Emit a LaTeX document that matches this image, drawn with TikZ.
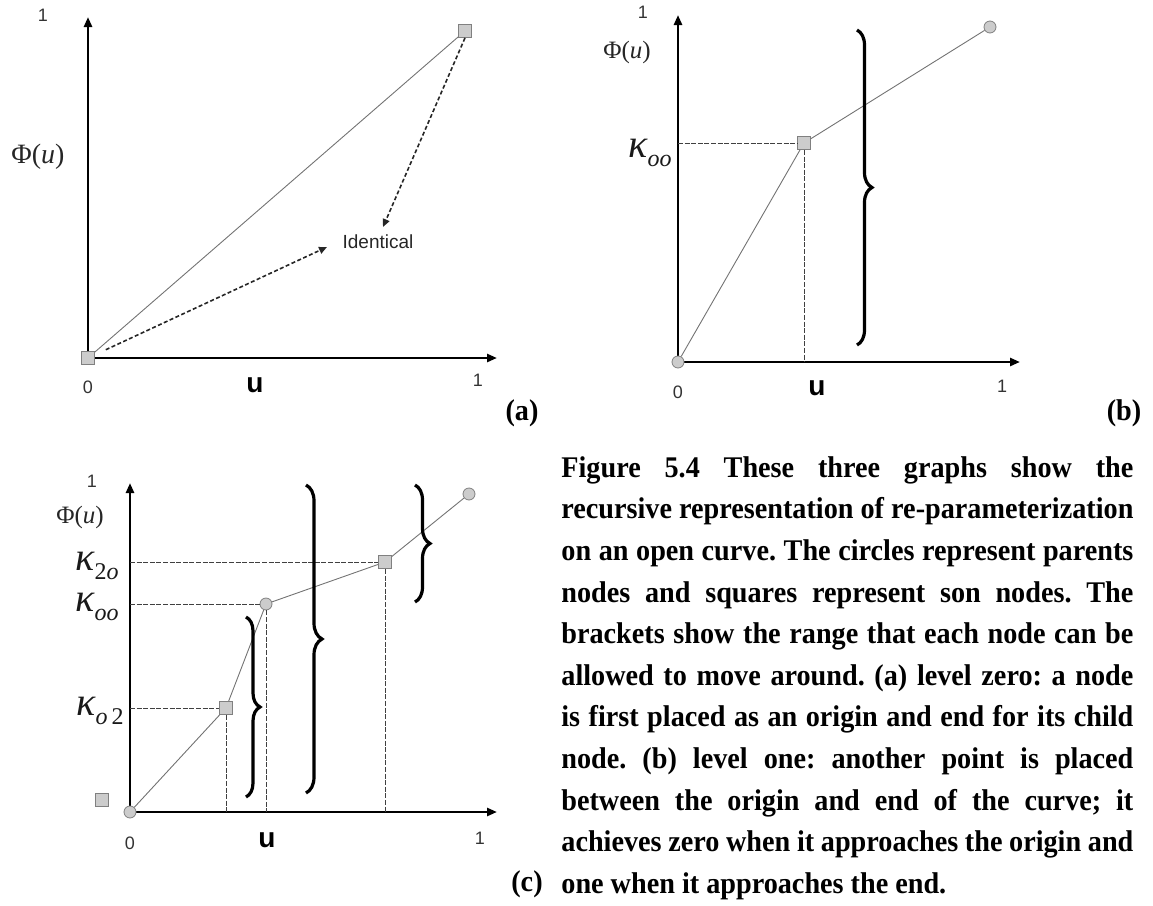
\documentclass[tikz,border=0pt]{standalone}
\usepackage{fontspec}
\setmainfont{Liberation Serif}
\newfontfamily\sansf{Liberation Sans}
\newfontfamily\capf[FakeStretch=0.94]{Liberation Serif}
\usetikzlibrary{decorations.pathreplacing,arrows.meta}
\newcommand{\kap}[1]{{\fontsize{20}{20}\selectfont\itshape κ}\raisebox{-0.9ex}{\fontsize{12}{12}\selectfont #1}}
\begin{document}
\begin{tikzpicture}[x=0.5pt,y=-0.5pt,
 axis/.style={line width=1.4pt,-{Triangle[length=5pt,width=4pt]}},
 curve/.style={draw=black!55,line width=0.45pt},
 guide/.style={draw=black!75,line width=0.5pt,dash pattern=on 2.5pt off 0.8pt},
 identarrow/.style={draw=black!85,line width=0.8pt,dash pattern=on 2pt off 1.2pt,-{Triangle[length=4pt,width=3.5pt]}},
 sqnode/.style={rectangle,draw=black!50,fill=black!20,line width=0.4pt,minimum size=6.5pt,inner sep=0pt},
 dotnode/.style={circle,draw=black!50,fill=black!20,line width=0.4pt,minimum size=6pt,inner sep=0pt},
 bracket/.style={decorate,decoration={brace,amplitude=#1},line width=1.6pt},
 numlabel/.style={font=\sansf\fontsize{9}{9}\selectfont,text=black!80,inner sep=0pt},
 ulabel/.style={font=\sansf\bfseries\fontsize{14}{14}\selectfont,inner sep=0pt},
 philabel/.style={font=\fontsize{#1}{#1}\selectfont,text=black!85,inner sep=0pt},
 kaplabel/.style={inner sep=0pt,text=black!90},
 panel/.style={font=\capf\bfseries\fontsize{15}{15}\selectfont,inner sep=0pt},
]
\useasboundingbox (0,0) rectangle (1153,906);

% ---------- panel (a)
\coordinate (a0) at (88,358);
\coordinate (ay) at (88,17);
\coordinate (ax) at (497,358);
\draw[axis] (a0) -- (ay);
\draw[axis] (a0) -- (ax);
\node[sqnode] (aend) at (465,31) {};
\node[sqnode] (aorg) at (88,358) {};
\draw[curve] (aorg) -- (aend);
\node[font=\sansf\fontsize{9.5}{9.5}\selectfont,text=black!85,inner sep=0pt] (ident) at (378,242) {Identical};
\coordinate (ia) at (383,227);
\coordinate (ib) at (327,247);
\draw[identarrow] (aend.south) -- (ia);
\draw[identarrow,shorten <=6pt] (aorg) -- (ib);
\node[numlabel] (a1y) at (43,15) {1};
\node[philabel=14] (aphi) at (38,157) {Φ(\textit{u})};
\node[numlabel] (a0x) at (88,387) {0};
\node[ulabel] (au) at (255,385) {u};
\node[numlabel] (a1x) at (478,380) {1};
\node[panel] (alab) at (522,413) {(a)};

% ---------- panel (b)
\coordinate (b0) at (678,362);
\coordinate (by) at (678,15);
\coordinate (bx) at (1020,362);
\draw[axis] (b0) -- (by);
\draw[axis] (b0) -- (bx);
\coordinate (bky) at (678,143);
\coordinate (bkx) at (804,362);
\node[sqnode] (bsq) at (804,143) {};
\node[dotnode] (bend) at (990,27) {};
\node[dotnode] (borg) at (678,362) {};
\draw[guide] (bky) -- (bsq);
\draw[guide] (bsq) -- (bkx);
\draw[curve] (borg) -- (bsq);
\draw[curve] (bsq) -- (bend);
\coordinate (bbt) at (857,30);
\coordinate (bbb) at (857,345);
\draw[bracket=7.5pt] (bbt) -- (bbb);
\node[numlabel] (b1y) at (643,12) {1};
\node[philabel=12.5] (bphi) at (627,52) {Φ(\textit{u})};
\node[kaplabel] (bk) at (650,153) {\kap{\itshape oo}};
\node[numlabel] (b0x) at (678,392) {0};
\node[ulabel] (bu) at (817,388) {u};
\node[numlabel] (b1x) at (1002,386) {1};
\node[panel] (blab) at (1124,413) {(b)};

% ---------- panel (c)
\coordinate (c0) at (130,812);
\coordinate (cy) at (130,483);
\coordinate (cx) at (497,812);
\draw[axis] (c0) -- (cy);
\draw[axis] (c0) -- (cx);
\node[dotnode] (corg) at (130,812) {};
\node[sqnode] (cs1) at (226,708) {};
\node[dotnode] (cc1) at (266,604) {};
\node[sqnode] (cs2) at (385,562) {};
\node[dotnode] (cend) at (469,494) {};
\node[sqnode] (cstray) at (102,800) {};
\coordinate (cy2) at (130,562);
\coordinate (cx2) at (385,812);
\coordinate (cy1) at (130,604);
\coordinate (cx1) at (266,812);
\coordinate (cy0) at (130,708);
\coordinate (cx0) at (226,812);
\draw[guide] (cy2) -- (cs2);
\draw[guide] (cs2) -- (cx2);
\draw[guide] (cy1) -- (cc1);
\draw[guide] (cc1) -- (cx1);
\draw[guide] (cy0) -- (cs1);
\draw[guide] (cs1) -- (cx0);
\draw[curve] (corg) -- (cs1);
\draw[curve] (cs1) -- (cc1);
\draw[curve] (cc1) -- (cs2);
\draw[curve] (cs2) -- (cend);
\coordinate (cb1t) at (246,617);
\coordinate (cb1b) at (246,797);
\coordinate (cb2t) at (306,485);
\coordinate (cb2b) at (306,793);
\coordinate (cb3t) at (415,485);
\coordinate (cb3b) at (415,602);
\draw[bracket=7pt] (cb1t) -- (cb1b);
\draw[bracket=8pt] (cb2t) -- (cb2b);
\draw[bracket=7.5pt] (cb3t) -- (cb3b);
\node[numlabel] (c1y) at (92,481) {1};
\node[philabel=12.5] (cphi) at (80,517) {Φ(\textit{u})};
\node[kaplabel] (ck2) at (97,566) {\kap{2\textit{o}}};
\node[kaplabel] (ckoo) at (97,607) {\kap{\itshape oo}};
\node[kaplabel] (cko2) at (100,711) {\kap{\textit{o}\,2}};
\node[numlabel] (c0x) at (130,843) {0};
\node[ulabel] (cu) at (267,840) {u};
\node[numlabel] (c1x) at (480,838) {1};

% ---------- caption
\node[anchor=north west,inner sep=0pt,text width=286pt,align=justify,
      font=\capf\bfseries\fontsize{15}{20.8}\selectfont] (cap) at (561,456)
{\frenchspacing\tolerance=9999\hbadness=10000\hyphenpenalty=10000
Figure 5.4 These three graphs show the\linebreak
recursive representation of re-parameterization\linebreak
on an open curve. The circles represent parents\linebreak
nodes and squares represent son nodes. The\linebreak
brackets show the range that each node can be\linebreak
allowed to move around. (a) level zero: a node\linebreak
is first placed as an origin and end for its child\linebreak
node. (b) level one: another point is placed\linebreak
between the origin and end of the curve; it\linebreak
achieves zero when it approaches the origin and\linebreak
one when it approaches the end.};
\node[panel] (clab) at (527,884) {(c)};
\end{tikzpicture}
\end{document}
